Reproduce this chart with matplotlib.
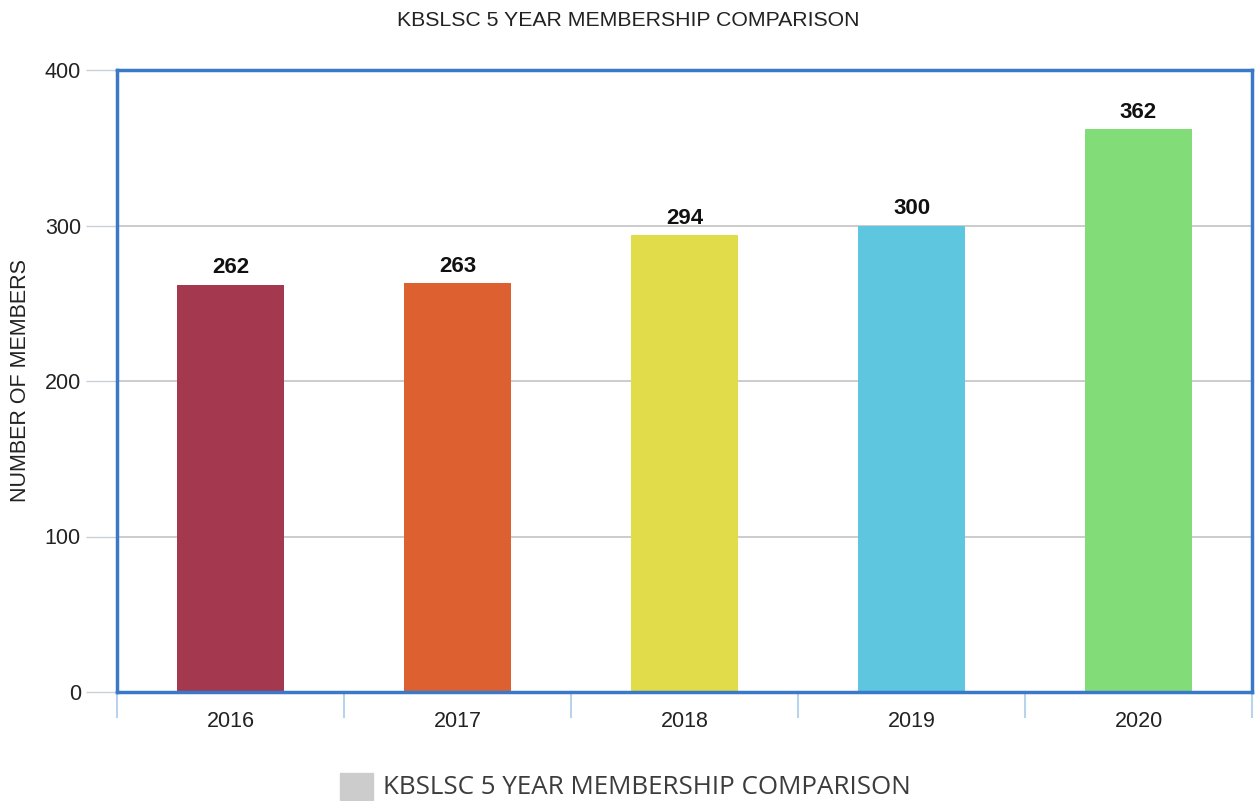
import matplotlib
matplotlib.use("Agg")
import matplotlib.pyplot as plt
from matplotlib.patches import Rectangle

years = ["2016", "2017", "2018", "2019", "2020"]
members = [262, 263, 294, 300, 362]
colors = ["#a3384e", "#dc6030", "#e0dc4a", "#5ec6df", "#82dc78"]
title = "KBSLSC 5 YEAR MEMBERSHIP COMPARISON"

plt.rcParams['font.family'] = ['Liberation Sans', 'DejaVu Sans']

fig = plt.figure(figsize=(12.56, 8.01), dpi=100)
ax = fig.add_axes([117/1256, 1 - 692/801, (1252-117)/1256, (692-70)/801])

x = list(range(len(years)))
ax.bar(x, members, width=0.475, color=colors, zorder=3)
for xi, v in zip(x, members):
    ax.text(xi, v + 4, str(v), ha="center", va="bottom", fontsize=16,
            fontweight="bold", color="#111111", zorder=4)

ax.set_xlim(-0.5, len(years) - 0.5)
ax.set_ylim(0, 400)
ax.set_yticks([0, 100, 200, 300, 400])
ax.tick_params(axis="y", length=22, width=1, color="#c8d0d8", labelsize=15.5,
               labelcolor="#222222", pad=4)
ax.set_xticks(x)
ax.set_xticklabels(years)
ax.tick_params(axis="x", length=0, labelsize=15.5, labelcolor="#222222", pad=14)
ax.grid(axis="y", color="#c4c4c4", linewidth=1.2, zorder=1)

# category boundary ticks below the axis
for b in [i - 0.5 for i in range(len(years) + 1)]:
    ax.plot([b, b], [0, -16], color="#b8d4ec", linewidth=1.5,
            clip_on=False, zorder=1)

for s in ax.spines.values():
    s.set_color("#3a78c8")
    s.set_linewidth(2.5)
    s.set_zorder(5)

ax.set_ylabel("NUMBER OF MEMBERS", fontsize=15.5, color="#222222", labelpad=10)
fig.text(0.5, 1 - 20/801, title, ha="center", va="center", fontsize=15.3,
         color="#222222")

# legend
fig.patches.append(Rectangle((340/1256, 1 - 800/801), 33/1256, 27/801,
                             transform=fig.transFigure, color="#cccccc"))
fig.text(383/1256, 1 - 788/801, title, ha="left", va="center", fontsize=18.7,
         family=["Open Sans", "DejaVu Sans"], color="#3c3c3c")

fig.savefig("out.png", dpi=100)
